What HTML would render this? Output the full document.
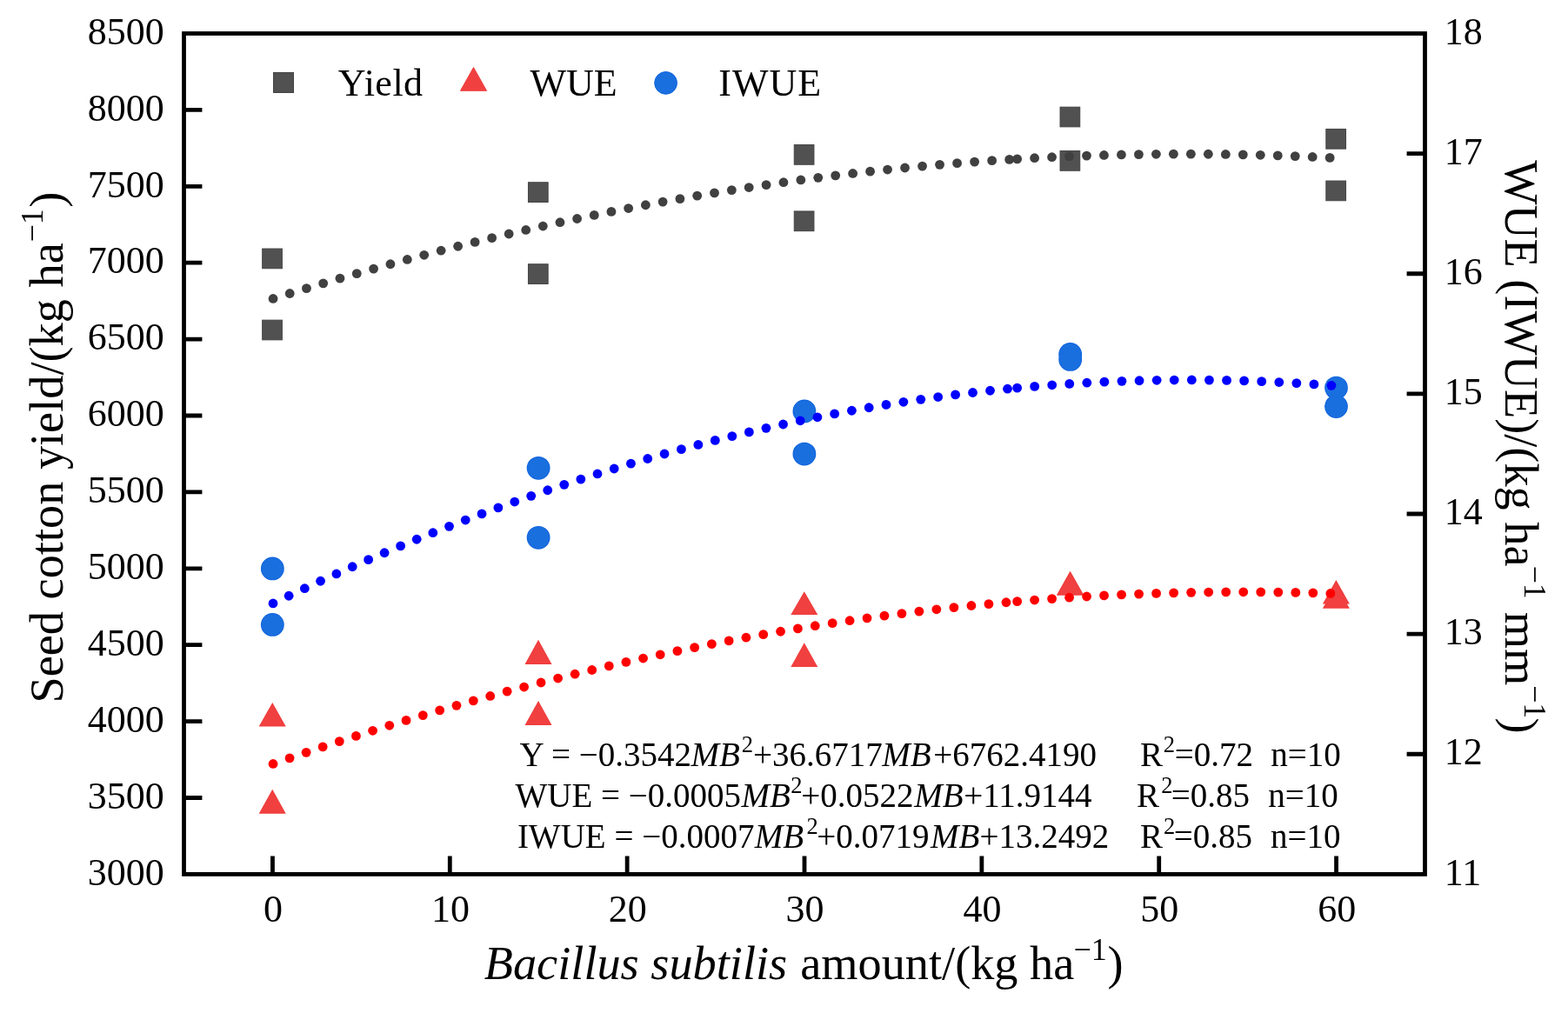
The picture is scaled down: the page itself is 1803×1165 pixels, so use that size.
<!DOCTYPE html>
<html><head><meta charset="utf-8"><title>Seed cotton yield chart</title>
<style>html,body{margin:0;padding:0;background:#fff;}svg{display:block;}</style>
</head><body>
<svg width="1803" height="1165" viewBox="0 0 1803 1165" font-family="'Liberation Serif', 'Times New Roman', serif" fill="#000">
<rect x="0" y="0" width="1803" height="1165" fill="#ffffff"/>
<rect x="301.68" y="286.05" width="22.70" height="22.70" fill="#515151" stroke="#444444" stroke-width="1"/>
<rect x="301.68" y="368.15" width="22.70" height="22.70" fill="#515151" stroke="#444444" stroke-width="1"/>
<rect x="607.46" y="209.75" width="22.70" height="22.70" fill="#515151" stroke="#444444" stroke-width="1"/>
<rect x="607.46" y="303.75" width="22.70" height="22.70" fill="#515151" stroke="#444444" stroke-width="1"/>
<rect x="913.25" y="166.55" width="22.70" height="22.70" fill="#515151" stroke="#444444" stroke-width="1"/>
<rect x="913.25" y="242.95" width="22.70" height="22.70" fill="#515151" stroke="#444444" stroke-width="1"/>
<rect x="1219.04" y="123.15" width="22.70" height="22.70" fill="#515151" stroke="#444444" stroke-width="1"/>
<rect x="1219.04" y="173.55" width="22.70" height="22.70" fill="#515151" stroke="#444444" stroke-width="1"/>
<rect x="1524.82" y="148.45" width="22.70" height="22.70" fill="#515151" stroke="#444444" stroke-width="1"/>
<rect x="1524.82" y="208.05" width="22.70" height="22.70" fill="#515151" stroke="#444444" stroke-width="1"/>
<circle cx="313.33" cy="653.90" r="13.40" fill="#0f62de"/>
<circle cx="313.33" cy="718.40" r="13.40" fill="#0f62de"/>
<circle cx="619.11" cy="538.30" r="13.40" fill="#0f62de"/>
<circle cx="619.11" cy="618.30" r="13.40" fill="#0f62de"/>
<circle cx="924.90" cy="472.90" r="13.40" fill="#0f62de"/>
<circle cx="924.90" cy="522.10" r="13.40" fill="#0f62de"/>
<circle cx="1230.69" cy="407.40" r="13.40" fill="#0f62de"/>
<circle cx="1230.69" cy="413.40" r="13.40" fill="#0f62de"/>
<circle cx="1536.47" cy="446.10" r="13.40" fill="#0f62de"/>
<circle cx="1536.47" cy="467.60" r="13.40" fill="#0f62de"/>
<circle cx="313.33" cy="653.90" r="12.50" fill="#1a6fdf"/>
<circle cx="313.33" cy="718.40" r="12.50" fill="#1a6fdf"/>
<circle cx="619.11" cy="538.30" r="12.50" fill="#1a6fdf"/>
<circle cx="619.11" cy="618.30" r="12.50" fill="#1a6fdf"/>
<circle cx="924.90" cy="472.90" r="12.50" fill="#1a6fdf"/>
<circle cx="924.90" cy="522.10" r="12.50" fill="#1a6fdf"/>
<circle cx="1230.69" cy="407.40" r="12.50" fill="#1a6fdf"/>
<circle cx="1230.69" cy="413.40" r="12.50" fill="#1a6fdf"/>
<circle cx="1536.47" cy="446.10" r="12.50" fill="#1a6fdf"/>
<circle cx="1536.47" cy="467.60" r="12.50" fill="#1a6fdf"/>
<polygon points="313.23,808.00 297.73,835.50 328.73,835.50" fill="#f03a3a"/>
<polygon points="313.23,907.70 297.73,935.70 328.73,935.70" fill="#f03a3a"/>
<polygon points="619.01,735.80 603.51,764.00 634.51,764.00" fill="#f03a3a"/>
<polygon points="619.01,805.90 603.51,834.00 634.51,834.00" fill="#f03a3a"/>
<polygon points="924.80,680.30 909.30,707.10 940.30,707.10" fill="#f03a3a"/>
<polygon points="924.80,739.20 909.30,767.10 940.30,767.10" fill="#f03a3a"/>
<polygon points="1230.59,657.10 1215.09,684.60 1246.09,684.60" fill="#f03a3a"/>
<polygon points="1230.59,657.10 1215.09,684.60 1246.09,684.60" fill="#f03a3a"/>
<polygon points="1536.37,667.10 1520.87,694.60 1551.87,694.60" fill="#f03a3a"/>
<polygon points="1536.37,672.30 1520.87,699.80 1551.87,699.80" fill="#f03a3a"/>
<polygon points="313.23,809.83 299.27,834.60 327.19,834.60" fill="#f14040"/>
<polygon points="313.23,909.56 299.26,934.80 327.20,934.80" fill="#f14040"/>
<polygon points="619.01,737.67 605.04,763.10 632.99,763.10" fill="#f14040"/>
<polygon points="619.01,807.76 605.04,833.10 632.99,833.10" fill="#f14040"/>
<polygon points="924.80,682.10 910.86,706.20 938.74,706.20" fill="#f14040"/>
<polygon points="924.80,741.05 910.83,766.20 938.77,766.20" fill="#f14040"/>
<polygon points="1230.59,658.93 1216.63,683.70 1244.55,683.70" fill="#f14040"/>
<polygon points="1230.59,658.93 1216.63,683.70 1244.55,683.70" fill="#f14040"/>
<polygon points="1536.37,668.93 1522.41,693.70 1550.33,693.70" fill="#f14040"/>
<polygon points="1536.37,674.13 1522.41,698.90 1550.33,698.90" fill="#f14040"/>
<g fill="#404040"><circle cx="314.05" cy="343.47" r="5.40"/><circle cx="333.23" cy="337.50" r="5.40"/><circle cx="352.44" cy="331.62" r="5.40"/><circle cx="371.67" cy="325.84" r="5.40"/><circle cx="390.94" cy="320.16" r="5.40"/><circle cx="410.24" cy="314.59" r="5.40"/><circle cx="429.57" cy="309.11" r="5.40"/><circle cx="448.92" cy="303.73" r="5.40"/><circle cx="468.30" cy="298.46" r="5.40"/><circle cx="487.71" cy="293.29" r="5.40"/><circle cx="507.15" cy="288.22" r="5.40"/><circle cx="526.62" cy="283.26" r="5.40"/><circle cx="546.11" cy="278.40" r="5.40"/><circle cx="565.63" cy="273.65" r="5.40"/><circle cx="585.17" cy="269.01" r="5.40"/><circle cx="604.74" cy="264.47" r="5.40"/><circle cx="624.33" cy="260.04" r="5.40"/><circle cx="643.95" cy="255.72" r="5.40"/><circle cx="663.59" cy="251.51" r="5.40"/><circle cx="683.25" cy="247.41" r="5.40"/><circle cx="702.94" cy="243.41" r="5.40"/><circle cx="722.65" cy="239.53" r="5.40"/><circle cx="742.38" cy="235.77" r="5.40"/><circle cx="762.13" cy="232.11" r="5.40"/><circle cx="781.91" cy="228.56" r="5.40"/><circle cx="801.70" cy="225.13" r="5.40"/><circle cx="821.51" cy="221.82" r="5.40"/><circle cx="841.34" cy="218.62" r="5.40"/><circle cx="861.19" cy="215.53" r="5.40"/><circle cx="881.06" cy="212.56" r="5.40"/><circle cx="900.94" cy="209.70" r="5.40"/><circle cx="920.84" cy="206.97" r="5.40"/><circle cx="940.76" cy="204.35" r="5.40"/><circle cx="960.69" cy="201.84" r="5.40"/><circle cx="980.63" cy="199.46" r="5.40"/><circle cx="1000.59" cy="197.19" r="5.40"/><circle cx="1020.56" cy="195.04" r="5.40"/><circle cx="1040.55" cy="193.02" r="5.40"/><circle cx="1060.55" cy="191.11" r="5.40"/><circle cx="1080.55" cy="189.32" r="5.40"/><circle cx="1100.57" cy="187.66" r="5.40"/><circle cx="1120.60" cy="186.11" r="5.40"/><circle cx="1140.64" cy="184.69" r="5.40"/><circle cx="1160.68" cy="183.39" r="5.40"/><circle cx="1169.65" cy="182.84" r="5.40"/><circle cx="1189.60" cy="181.72" r="5.40"/><circle cx="1209.56" cy="180.72" r="5.40"/><circle cx="1229.52" cy="179.85" r="5.40"/><circle cx="1249.49" cy="179.09" r="5.40"/><circle cx="1269.46" cy="178.46" r="5.40"/><circle cx="1289.44" cy="177.95" r="5.40"/><circle cx="1309.42" cy="177.56" r="5.40"/><circle cx="1329.40" cy="177.30" r="5.40"/><circle cx="1349.38" cy="177.15" r="5.40"/><circle cx="1369.36" cy="177.13" r="5.40"/><circle cx="1389.34" cy="177.24" r="5.40"/><circle cx="1409.33" cy="177.47" r="5.40"/><circle cx="1429.31" cy="177.82" r="5.40"/><circle cx="1449.28" cy="178.29" r="5.40"/><circle cx="1469.26" cy="178.89" r="5.40"/><circle cx="1489.23" cy="179.61" r="5.40"/><circle cx="1509.19" cy="180.45" r="5.40"/><circle cx="1529.15" cy="181.42" r="5.40"/></g>
<g fill="#0000ff"><circle cx="314.01" cy="693.95" r="5.40"/><circle cx="332.14" cy="685.27" r="5.40"/><circle cx="350.33" cy="676.71" r="5.40"/><circle cx="368.57" cy="668.27" r="5.40"/><circle cx="386.87" cy="659.95" r="5.40"/><circle cx="405.22" cy="651.76" r="5.40"/><circle cx="423.63" cy="643.69" r="5.40"/><circle cx="442.10" cy="635.75" r="5.40"/><circle cx="460.62" cy="627.94" r="5.40"/><circle cx="479.20" cy="620.27" r="5.40"/><circle cx="497.83" cy="612.72" r="5.40"/><circle cx="516.51" cy="605.31" r="5.40"/><circle cx="535.25" cy="598.04" r="5.40"/><circle cx="554.04" cy="590.90" r="5.40"/><circle cx="572.88" cy="583.90" r="5.40"/><circle cx="591.77" cy="577.05" r="5.40"/><circle cx="610.72" cy="570.33" r="5.40"/><circle cx="629.72" cy="563.77" r="5.40"/><circle cx="648.76" cy="557.35" r="5.40"/><circle cx="667.86" cy="551.07" r="5.40"/><circle cx="687.01" cy="544.95" r="5.40"/><circle cx="706.20" cy="538.98" r="5.40"/><circle cx="725.44" cy="533.16" r="5.40"/><circle cx="744.72" cy="527.50" r="5.40"/><circle cx="764.06" cy="522.00" r="5.40"/><circle cx="783.43" cy="516.65" r="5.40"/><circle cx="802.85" cy="511.46" r="5.40"/><circle cx="822.31" cy="506.44" r="5.40"/><circle cx="841.82" cy="501.58" r="5.40"/><circle cx="861.36" cy="496.88" r="5.40"/><circle cx="880.94" cy="492.35" r="5.40"/><circle cx="900.56" cy="487.99" r="5.40"/><circle cx="920.22" cy="483.80" r="5.40"/><circle cx="939.91" cy="479.78" r="5.40"/><circle cx="959.64" cy="475.93" r="5.40"/><circle cx="979.40" cy="472.25" r="5.40"/><circle cx="999.20" cy="468.75" r="5.40"/><circle cx="1019.02" cy="465.43" r="5.40"/><circle cx="1038.87" cy="462.28" r="5.40"/><circle cx="1058.75" cy="459.32" r="5.40"/><circle cx="1078.66" cy="456.53" r="5.40"/><circle cx="1098.59" cy="453.93" r="5.40"/><circle cx="1118.54" cy="451.50" r="5.40"/><circle cx="1138.52" cy="449.26" r="5.40"/><circle cx="1158.51" cy="447.21" r="5.40"/><circle cx="1169.65" cy="446.14" r="5.40"/><circle cx="1189.67" cy="444.38" r="5.40"/><circle cx="1209.70" cy="442.80" r="5.40"/><circle cx="1229.75" cy="441.41" r="5.40"/><circle cx="1249.81" cy="440.21" r="5.40"/><circle cx="1269.88" cy="439.19" r="5.40"/><circle cx="1289.96" cy="438.37" r="5.40"/><circle cx="1310.05" cy="437.73" r="5.40"/><circle cx="1330.14" cy="437.29" r="5.40"/><circle cx="1350.24" cy="437.03" r="5.40"/><circle cx="1370.34" cy="436.97" r="5.40"/><circle cx="1390.43" cy="437.10" r="5.40"/><circle cx="1410.53" cy="437.42" r="5.40"/><circle cx="1430.62" cy="437.93" r="5.40"/><circle cx="1450.70" cy="438.63" r="5.40"/><circle cx="1470.78" cy="439.53" r="5.40"/><circle cx="1490.85" cy="440.62" r="5.40"/><circle cx="1510.90" cy="441.89" r="5.40"/><circle cx="1530.95" cy="443.36" r="5.40"/></g>
<g fill="#ff0000"><circle cx="314.04" cy="878.46" r="5.40"/><circle cx="333.05" cy="871.85" r="5.40"/><circle cx="352.10" cy="865.34" r="5.40"/><circle cx="371.17" cy="858.93" r="5.40"/><circle cx="390.28" cy="852.62" r="5.40"/><circle cx="409.43" cy="846.41" r="5.40"/><circle cx="428.60" cy="840.30" r="5.40"/><circle cx="447.81" cy="834.30" r="5.40"/><circle cx="467.05" cy="828.40" r="5.40"/><circle cx="486.33" cy="822.60" r="5.40"/><circle cx="505.63" cy="816.90" r="5.40"/><circle cx="524.96" cy="811.32" r="5.40"/><circle cx="544.33" cy="805.83" r="5.40"/><circle cx="563.72" cy="800.46" r="5.40"/><circle cx="583.15" cy="795.19" r="5.40"/><circle cx="602.60" cy="790.03" r="5.40"/><circle cx="622.08" cy="784.99" r="5.40"/><circle cx="641.59" cy="780.05" r="5.40"/><circle cx="661.13" cy="775.22" r="5.40"/><circle cx="680.69" cy="770.50" r="5.40"/><circle cx="700.29" cy="765.90" r="5.40"/><circle cx="719.91" cy="761.41" r="5.40"/><circle cx="739.55" cy="757.04" r="5.40"/><circle cx="759.22" cy="752.78" r="5.40"/><circle cx="778.91" cy="748.63" r="5.40"/><circle cx="798.63" cy="744.60" r="5.40"/><circle cx="818.37" cy="740.69" r="5.40"/><circle cx="838.14" cy="736.90" r="5.40"/><circle cx="857.92" cy="733.22" r="5.40"/><circle cx="877.73" cy="729.67" r="5.40"/><circle cx="897.56" cy="726.23" r="5.40"/><circle cx="917.41" cy="722.92" r="5.40"/><circle cx="937.28" cy="719.72" r="5.40"/><circle cx="957.17" cy="716.65" r="5.40"/><circle cx="977.08" cy="713.70" r="5.40"/><circle cx="997.01" cy="710.87" r="5.40"/><circle cx="1016.95" cy="708.17" r="5.40"/><circle cx="1036.91" cy="705.59" r="5.40"/><circle cx="1056.89" cy="703.13" r="5.40"/><circle cx="1076.88" cy="700.80" r="5.40"/><circle cx="1096.88" cy="698.60" r="5.40"/><circle cx="1116.90" cy="696.52" r="5.40"/><circle cx="1136.93" cy="694.57" r="5.40"/><circle cx="1156.97" cy="692.75" r="5.40"/><circle cx="1169.65" cy="691.66" r="5.40"/><circle cx="1189.61" cy="690.05" r="5.40"/><circle cx="1209.59" cy="688.57" r="5.40"/><circle cx="1229.57" cy="687.22" r="5.40"/><circle cx="1249.56" cy="686.00" r="5.40"/><circle cx="1269.56" cy="684.90" r="5.40"/><circle cx="1289.57" cy="683.93" r="5.40"/><circle cx="1309.58" cy="683.10" r="5.40"/><circle cx="1329.59" cy="682.39" r="5.40"/><circle cx="1349.61" cy="681.81" r="5.40"/><circle cx="1369.64" cy="681.36" r="5.40"/><circle cx="1389.67" cy="681.04" r="5.40"/><circle cx="1409.69" cy="680.85" r="5.40"/><circle cx="1429.72" cy="680.79" r="5.40"/><circle cx="1449.75" cy="680.86" r="5.40"/><circle cx="1469.78" cy="681.07" r="5.40"/><circle cx="1489.81" cy="681.40" r="5.40"/><circle cx="1509.83" cy="681.87" r="5.40"/><circle cx="1529.85" cy="682.46" r="5.40"/></g>
<path d="M211.50 917.50 H232.40 M211.50 829.60 H232.40 M211.50 741.70 H232.40 M211.50 653.80 H232.40 M211.50 565.90 H232.40 M211.50 478.00 H232.40 M211.50 390.10 H232.40 M211.50 302.20 H232.40 M211.50 214.30 H232.40 M211.50 126.40 H232.40 M1638.50 867.27 H1617.60 M1638.50 729.14 H1617.60 M1638.50 591.01 H1617.60 M1638.50 452.89 H1617.60 M1638.50 314.76 H1617.60 M1638.50 176.63 H1617.60 M313.43 1005.40 V984.50 M517.29 1005.40 V984.50 M721.14 1005.40 V984.50 M925.00 1005.40 V984.50 M1128.86 1005.40 V984.50 M1332.71 1005.40 V984.50 M1536.57 1005.40 V984.50" stroke="#000" stroke-width="4.8" fill="none"/>
<rect x="211.50" y="38.50" width="1427.00" height="966.90" fill="none" stroke="#000" stroke-width="4.8"/>
<g font-size="44"><text x="188.8" y="1017.60" text-anchor="end">3000</text>
<text x="188.8" y="929.70" text-anchor="end">3500</text>
<text x="188.8" y="841.80" text-anchor="end">4000</text>
<text x="188.8" y="753.90" text-anchor="end">4500</text>
<text x="188.8" y="666.00" text-anchor="end">5000</text>
<text x="188.8" y="578.10" text-anchor="end">5500</text>
<text x="188.8" y="490.20" text-anchor="end">6000</text>
<text x="188.8" y="402.30" text-anchor="end">6500</text>
<text x="188.8" y="314.40" text-anchor="end">7000</text>
<text x="188.8" y="226.50" text-anchor="end">7500</text>
<text x="188.8" y="138.60" text-anchor="end">8000</text>
<text x="188.8" y="50.70" text-anchor="end">8500</text>
<text x="1660.8" y="1017.60">11</text>
<text x="1660.8" y="879.47">12</text>
<text x="1660.8" y="741.34">13</text>
<text x="1660.8" y="603.21">14</text>
<text x="1660.8" y="465.09">15</text>
<text x="1660.8" y="326.96">16</text>
<text x="1660.8" y="188.83">17</text>
<text x="1660.8" y="50.70">18</text>
<text x="314.03" y="1060.2" text-anchor="middle">0</text>
<text x="517.89" y="1060.2" text-anchor="middle">10</text>
<text x="721.74" y="1060.2" text-anchor="middle">20</text>
<text x="925.60" y="1060.2" text-anchor="middle">30</text>
<text x="1129.46" y="1060.2" text-anchor="middle">40</text>
<text x="1333.31" y="1060.2" text-anchor="middle">50</text>
<text x="1537.17" y="1060.2" text-anchor="middle">60</text></g>
<rect x="314.5" y="83.5" width="23" height="23" fill="#515151" stroke="#444444" stroke-width="1"/>
<polygon points="544.5,77.6 529.5,104.3 559.5,104.3" fill="#f14040" stroke="#f03a3a" stroke-width="1" stroke-linejoin="round"/>
<circle cx="765.6" cy="95.4" r="12.9" fill="#1a6fdf" stroke="#0f62de" stroke-width="1"/>
<text letter-spacing="0.5" x="388.81" y="110.00" font-size="44.00">Yield</text>
<text x="609.56" y="110.10" font-size="44.00">WUE</text>
<text letter-spacing="1" x="826.31" y="110.10" font-size="44.00">IWUE</text>
<text x="597.46" y="880.90" font-size="39.00">Y = −0.3542</text>
<text x="794.56" y="880.90" font-size="39.00" font-style="italic">MB</text>
<text x="852.64" y="865.00" font-size="26.50">2</text>
<text x="865.96" y="880.90" font-size="39.00">+36.6717</text>
<text x="1014.16" y="880.90" font-size="39.00" font-style="italic">MB</text>
<text x="1073.16" y="880.90" font-size="39.00">+6762.4190</text>
<text x="1311.08" y="880.90" font-size="39.00">R</text>
<text x="1337.64" y="865.00" font-size="26.50">2</text>
<text x="1350.76" y="880.90" font-size="39.00">=0.72</text>
<text x="1461.30" y="880.90" font-size="39.00">n=10</text>
<text x="592.46" y="927.70" font-size="39.00">WUE = −0.0005</text>
<text x="852.46" y="927.70" font-size="39.00" font-style="italic">MB</text>
<text x="909.24" y="911.50" font-size="26.50">2</text>
<text x="921.16" y="927.70" font-size="39.00">+0.0522</text>
<text x="1051.26" y="927.70" font-size="39.00" font-style="italic">MB</text>
<text x="1108.26" y="927.70" font-size="39.00">+11.9144</text>
<text x="1306.88" y="927.70" font-size="39.00">R</text>
<text x="1335.14" y="911.50" font-size="26.50">2</text>
<text x="1346.86" y="927.70" font-size="39.00">=0.85</text>
<text x="1458.30" y="927.70" font-size="39.00">n=10</text>
<text x="594.89" y="975.40" font-size="39.00">IWUE = −0.0007</text>
<text x="867.66" y="975.40" font-size="39.00" font-style="italic">MB</text>
<text x="927.44" y="959.30" font-size="26.50">2</text>
<text x="939.36" y="975.40" font-size="39.00">+0.0719</text>
<text x="1070.06" y="975.40" font-size="39.00" font-style="italic">MB</text>
<text x="1126.56" y="975.40" font-size="39.00">+13.2492</text>
<text x="1311.08" y="975.40" font-size="39.00">R</text>
<text x="1337.94" y="959.30" font-size="26.50">2</text>
<text x="1349.66" y="975.40" font-size="39.00">=0.85</text>
<text x="1461.10" y="975.40" font-size="39.00">n=10</text>
<text x="556.80" y="1125.50" font-size="54.30" font-style="italic">Bacillus subtilis</text>
<text x="920.19" y="1125.50" font-size="54.30">amount/(kg ha</text>
<text x="1234.41" y="1103.80" font-size="36.00">−1</text>
<text x="1273.55" y="1125.50" font-size="54.30">)</text>
<text transform="translate(71.50 808.53) rotate(-90)" font-size="54.30">Seed cotton yield/(kg ha</text>
<text transform="translate(48.80 278.59) rotate(-90)" font-size="36.00">−1</text>
<text transform="translate(71.50 238.65) rotate(-90)" font-size="54.30">)</text>
<text transform="translate(1730.60 184.15) rotate(90)" font-size="54.30">WUE (IWUE)/(kg ha</text>
<text transform="translate(1752.60 650.41) rotate(90)" font-size="36.00">−1</text>
<text transform="translate(1730.60 703.66) rotate(90)" font-size="54.30">mm</text>
<text transform="translate(1752.60 787.91) rotate(90)" font-size="36.00">−1</text>
<text transform="translate(1730.60 825.55) rotate(90)" font-size="54.30">)</text>
</svg>
</body></html>
